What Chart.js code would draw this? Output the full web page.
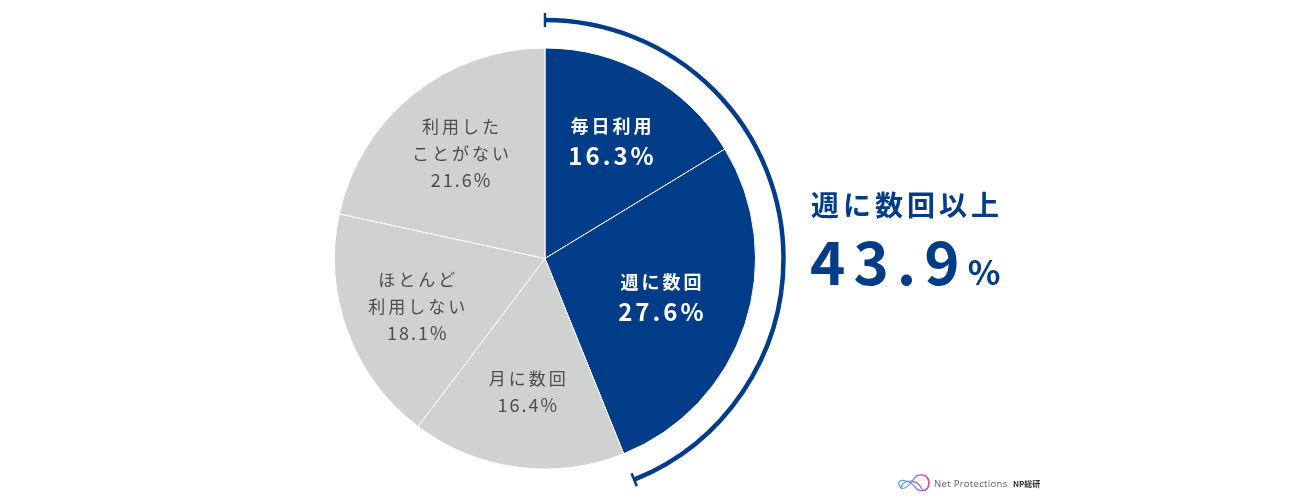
<!DOCTYPE html>
<html>
<head>
<meta charset="utf-8">
<script src="https://cdn.jsdelivr.net/npm/chart.js@4.4.1/dist/chart.umd.min.js"></script>
<style>
  html, body { margin: 0; padding: 0; background: #ffffff; }
  #wrap { width: 1300px; height: 501px; position: relative; }
</style>
</head>
<body>
<div id="wrap"><canvas id="c" width="1300" height="501"></canvas></div>
<script>
// ---- data ----
const categories = [
  ["毎日利用"],
  ["週に数回"],
  ["月に数回"],
  ["ほとんど", "利用しない"],
  ["利用した", "ことがない"]
];
const values = [16.3, 27.6, 16.4, 18.1, 21.6];
const highlighted = [true, true, false, false, false];
const summaryTitle = "週に数回以上";
const summaryValue = "43.9";
const summaryUnit = "%";

const NAVY = "#003c87";
const GRAY = "#d0d1d1";
const FONT = "'Noto Sans CJK JP', 'Noto Sans', sans-serif";

function drawSpaced(ctx, text, x, y, spacing, align) {
  ctx.save();
  ctx.letterSpacing = spacing + "px";
  ctx.textAlign = "left";
  const w = ctx.measureText(text).width - spacing;
  let sx = x;
  if (align === "center") sx = x - w / 2;
  else if (align === "right") sx = x - w;
  ctx.fillText(text, sx, y);
  ctx.restore();
  return w;
}

const overlay = {
  id: "overlay",
  afterDraw(chart, args, opts) {
    const ctx = chart.ctx;
    const arcs = chart.getDatasetMeta(0).data;
    const cx = arcs[0].x, cy = arcs[0].y;
    const R = arcs[0].outerRadius;

    // slice labels
    arcs.forEach((a, i) => {
      const mid = (a.startAngle + a.endAngle) / 2;
      const rr = R * opts.labelRadius[i];
      const ax = cx + Math.cos(mid) * rr;
      const ay = cy + Math.sin(mid) * rr;
      const lines = categories[i];
      const pct = values[i].toFixed(1) + "%";
      ctx.save();
      ctx.textBaseline = "middle";
      if (highlighted[i]) {
        ctx.fillStyle = "#ffffff";
        const gap = 29;
        const total = lines.length * gap;
        let y0 = ay - total / 2;
        lines.forEach((ln, k) => {
          ctx.font = "bold 18px " + FONT;
          drawSpaced(ctx, ln, ax, y0 + k * gap, 3, "center");
        });
        ctx.font = "bold 24px " + FONT;
        drawSpaced(ctx, pct, ax, y0 + lines.length * gap, 3, "center");
      } else {
        ctx.fillStyle = "#4d4d4d";
        const gap = 27;
        const total = lines.length * gap;
        let y0 = ay - total / 2;
        lines.forEach((ln, k) => {
          ctx.font = "17px " + FONT;
          drawSpaced(ctx, ln, ax, y0 + k * gap, 3, "center");
        });
        ctx.font = "18px " + FONT;
        drawSpaced(ctx, pct, ax, y0 + lines.length * gap, 2, "center");
      }
      ctx.restore();
    });

    // bracket arc around highlighted slices
    let s = null, e = null;
    arcs.forEach((a, i) => {
      if (highlighted[i]) {
        if (s === null) s = a.startAngle;
        e = a.endAngle;
      }
    });
    const BR = R + 28;
    ctx.save();
    ctx.strokeStyle = NAVY;
    ctx.lineWidth = 4.5;
    ctx.lineCap = "butt";
    ctx.beginPath();
    ctx.arc(cx, cy, BR, s, e);
    ctx.stroke();
    ctx.lineWidth = 2.5;
    [s, e].forEach(ang => {
      ctx.beginPath();
      ctx.moveTo(cx + Math.cos(ang) * (BR - 7), cy + Math.sin(ang) * (BR - 7));
      ctx.lineTo(cx + Math.cos(ang) * (BR + 7), cy + Math.sin(ang) * (BR + 7));
      ctx.stroke();
    });
    ctx.restore();

    // summary text
    ctx.save();
    ctx.fillStyle = NAVY;
    ctx.textBaseline = "alphabetic";
    ctx.font = "bold 28px " + FONT;
    drawSpaced(ctx, summaryTitle, 811, 216, 4, "left");
    ctx.font = "bold 60px " + FONT;
    const w = drawSpaced(ctx, summaryValue, 810, 285, 8, "left");
    ctx.font = "bold 34px " + FONT;
    drawSpaced(ctx, summaryUnit, 810 + w + 8, 285, 0, "left");
    ctx.restore();

    // logo
    ctx.save();
    const g = ctx.createLinearGradient(897, 490, 930, 474);
    g.addColorStop(0, "#36b8ea");
    g.addColorStop(0.5, "#8f7fd6");
    g.addColorStop(1, "#ec3f83");
    ctx.strokeStyle = g;
    ctx.lineWidth = 1.3;
    ctx.beginPath();
    ctx.moveTo(899, 484);
    ctx.bezierCurveTo(897, 478, 910, 480, 915, 487);
    ctx.bezierCurveTo(920, 494, 930, 490, 929, 482);
    ctx.bezierCurveTo(928, 474, 918, 472, 913, 480);
    ctx.bezierCurveTo(908, 488, 900, 492, 899, 484);
    ctx.stroke();
    ctx.beginPath();
    ctx.moveTo(901, 487);
    ctx.bezierCurveTo(905, 478, 918, 480, 922, 489);
    ctx.bezierCurveTo(925, 494, 932, 486, 927, 477);
    ctx.stroke();
    ctx.fillStyle = "#6b6b6b";
    ctx.font = "9.5px 'Noto Sans', sans-serif";
    ctx.textBaseline = "middle";
    drawSpaced(ctx, "Net Protections", 934, 484, 0.3, "left");
    ctx.fillStyle = "#333333";
    ctx.font = "bold 8px " + FONT;
    drawSpaced(ctx, "NP総研", 1013, 484, 0, "left");
    ctx.restore();
  }
};

new Chart(document.getElementById("c"), {
  type: "pie",
  data: {
    labels: categories.map(l => l.join("")),
    datasets: [{
      data: values,
      backgroundColor: highlighted.map(h => h ? NAVY : GRAY),
      borderColor: "#ffffff",
      borderWidth: 1
    }]
  },
  options: {
    responsive: false,
    animation: false,
    layout: { padding: { top: 47, bottom: 31, left: 334, right: 544 } },
    plugins: {
      legend: { display: false },
      tooltip: { enabled: false },
      overlay: { labelRadius: [0.64, 0.58, 0.64, 0.65, 0.64] }
    }
  },
  plugins: [overlay]
});
</script>
</body>
</html>
